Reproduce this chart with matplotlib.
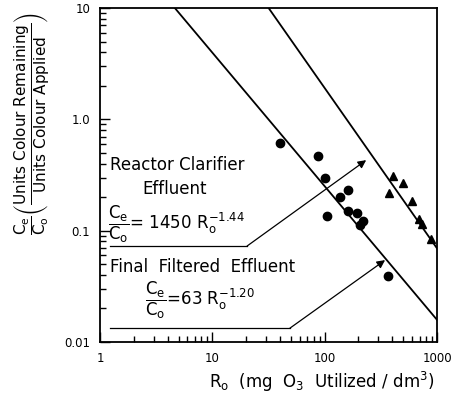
import numpy as np
import matplotlib
matplotlib.use('Agg')
import matplotlib.pyplot as plt
from matplotlib.ticker import LogLocator, NullFormatter, FixedFormatter, FixedLocator

plt.rcParams['font.family'] = 'DejaVu Sans'
plt.rcParams['mathtext.fontset'] = 'dejavusans'

# final filtered effluent (circles)
circ_x = [40, 87, 101, 162, 137, 105, 162, 194, 207, 220, 367]
circ_y = [0.61, 0.47, 0.30, 0.23, 0.20, 0.135, 0.15, 0.144, 0.112, 0.122, 0.039]

# reactor clarifier effluent (triangles)
tri_x = [406, 499, 374, 600, 693, 737, 886]
tri_y = [0.31, 0.27, 0.22, 0.185, 0.127, 0.115, 0.084]

# fitted lines  Ce/Co = a * Ro^b
reactor_a, reactor_b = 1450, -1.44
final_a, final_b = 63, -1.20

xticks = [1, 10, 100, 1000]
xticklabels = ['1', '10', '100', '1000']
yticks = [0.01, 0.1, 1, 10]
yticklabels = ['0.01', '0.1', '1.0', '10']

W, H = 457, 398
fig = plt.figure(figsize=(W / 100, H / 100), dpi=100)
ax = fig.add_axes([100 / W, 1 - 342 / H, 337 / W, 334 / H])

def px(x, y):
    # pixel position -> figure fraction
    return x / W, 1 - y / H

r = np.logspace(0, 3, 200)
ax.plot(r, reactor_a * r ** reactor_b, color='black', lw=1.3)
ax.plot(r, final_a * r ** final_b, color='black', lw=1.3)

ax.plot(circ_x, circ_y, 'o', color='black', ms=6, zorder=3)
ax.plot(tri_x, tri_y, '^', color='black', ms=6, zorder=3)

ax.set_xscale('log')
ax.set_yscale('log')
ax.set_xlim(1, 1000)
ax.set_ylim(0.01, 10)

ax.xaxis.set_major_locator(FixedLocator(xticks))
ax.xaxis.set_major_formatter(FixedFormatter(xticklabels))
ax.yaxis.set_major_locator(FixedLocator(yticks))
ax.yaxis.set_major_formatter(FixedFormatter(yticklabels))
ax.xaxis.set_minor_locator(LogLocator(base=10, subs=np.arange(2, 10)))
ax.yaxis.set_minor_locator(LogLocator(base=10, subs=np.arange(2, 10)))
ax.xaxis.set_minor_formatter(NullFormatter())
ax.yaxis.set_minor_formatter(NullFormatter())
ax.tick_params(which='both', direction='in', top=False, right=False,
               labelsize=8.5, width=1)
ax.tick_params(which='major', length=7, pad=7)
ax.tick_params(which='minor', length=4)
for s in ax.spines.values():
    s.set_linewidth(1.3)

# annotation lines with arrows
ax.plot([1.23, 20.4], [0.0728, 0.0728], color='black', lw=0.9)
ax.annotate('', xy=(234, 0.43), xytext=(20.4, 0.0728),
            arrowprops=dict(arrowstyle='-|>', color='black', lw=0.9,
                            mutation_scale=12, shrinkA=0, shrinkB=0))
ax.plot([1.23, 49], [0.0133, 0.0133], color='black', lw=0.9)
ax.annotate('', xy=(345, 0.0544), xytext=(49, 0.0133),
            arrowprops=dict(arrowstyle='-|>', color='black', lw=0.9,
                            mutation_scale=12, shrinkA=0, shrinkB=0))

frac = r'\dfrac{\mathrm{C_e}}{\mathrm{C_o}}'
fig.text(*px(110, 165), 'Reactor Clarifier', fontsize=12, va='center', ha='left')
fig.text(*px(175, 189), 'Effluent', fontsize=12, va='center', ha='center')
fig.text(*px(108, 224), r'$%s$= 1450 R$_\mathregular{o}^{-1.44}$' % frac,
         fontsize=12, va='center', ha='left')
fig.text(*px(110, 267), 'Final  Filtered  Effluent', fontsize=12, va='center', ha='left')
fig.text(*px(145, 300), r'$%s$=63 R$_\mathregular{o}^{-1.20}$' % frac,
         fontsize=12, va='center', ha='left')

fig.text(*px(322, 382), r'R$_\mathregular{o}$  (mg  O$_\mathregular{3}$  Utilized / dm$^\mathregular{3}$)',
         fontsize=12, va='center', ha='center')
fig.text(*px(32, 124),
         r'$%s\left(\dfrac{\mathrm{Units\ Colour\ Remaining}}{\mathrm{Units\ Colour\ Applied}}\right)$' % frac,
         fontsize=11, rotation=90, va='center', ha='center')

fig.savefig('out.png', dpi=100)
